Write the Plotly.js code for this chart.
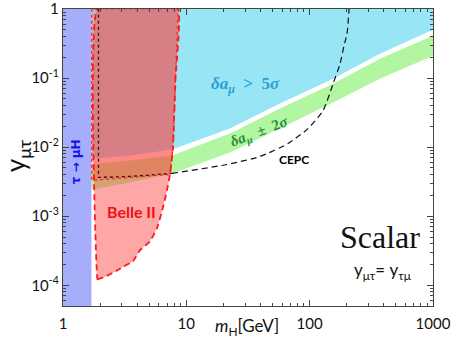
<!DOCTYPE html>
<html>
<head>
<meta charset="utf-8">
<script src="https://cdn.plot.ly/plotly-3.0.1.min.js"></script>
<style>
  html, body { margin: 0; padding: 0; background: #fff; }
  #plot { width: 452px; height: 348px; }
</style>
</head>
<body>
<div id="plot"></div>
<script>
// tau -> mu H excluded band
const tauX = [1, 1.7, 1.7, 1];
const tauY = [1.01, 1.01, 5e-5, 5e-5];

// g-2 bands, sampled along m_H
const massX = [1.7, 1.89, 3.49, 7.65, 22.6, 57.5, 155, 372, 1000];
const cyanLow = [0.00664, 0.00687, 0.0076, 0.00927, 0.0186, 0.0429, 0.0984, 0.226, 0.502];
const greenHigh = [0.00562, 0.00581, 0.00643, 0.0076, 0.0158, 0.0362, 0.0833, 0.191, 0.411];
const greenLow = [0.00245, 0.00253, 0.00309, 0.00417, 0.00838, 0.0186, 0.0443, 0.0984, 0.211];

// dotted red region
const dotX = [1.71, 1.71, 7.38, 7.8, 8.17, 8.57, 1.71];
const dotY = [1.01, 0.0033, 0.00403, 0.01, 0.1, 1.01, 1.01];

// Belle II reach
const belleX = [1.9, 1.9, 1.92, 2.15, 2.69, 3.07, 3.7, 4.21, 5.08, 5.78, 6.47, 6.97, 7.38, 7.8, 8.17, 8.57, 1.9];
const belleY = [1.01, 1.23e-4, 1.23e-4, 1.31e-4, 1.6e-4, 1.85e-4, 2.23e-4, 3.23e-4, 4.34e-4, 6.68e-4,
                1.34e-3, 2.37e-3, 4.03e-3, 0.01, 0.1, 1.01, 1.01];

// CEPC contour
const cepcX = [1.94, 1.94, 3.49, 7.65, 21.4, 39.6, 66.8, 97, 128.5, 155, 176.6, 190, 201, 209];
const cepcY = [1.01, 0.00365, 0.00377, 0.00417, 0.00562, 0.00734, 0.0113, 0.0186, 0.0339, 0.083, 0.162, 0.295, 0.44, 1.01];

const xTicks = [1, 10, 100, 1000];
const xLabels = ["1", "10", "100", "1000"];
const yTicks = [1, 0.1, 0.01, 0.001, 0.0001];
const yLabels = ["1", "10<sup>-1</sup>", "10<sup>-2</sup>", "10<sup>-3</sup>", "10<sup>-4</sup>"];

const poly = (x, y, fill, line) => ({
    x: x, y: y, type: "scatter", mode: line ? "lines" : "none",
    fill: "toself", fillcolor: fill, line: line || { width: 0 },
    hoverinfo: "skip", showlegend: false,
});

const traces = [
    poly(massX.concat([1000, 1.7]), cyanLow.concat([1.01, 1.01]), "rgb(152,230,245)"),
    poly(massX.concat(massX.slice().reverse()), greenLow.concat(greenHigh.slice().reverse()), "rgb(178,246,162)"),
    poly(tauX, tauY, "rgb(166,173,250)"),
    poly(dotX, dotY, "rgba(255,60,60,0.28)", { color: "#ff2020", width: 1.3, dash: "dot" }),
    poly(belleX, belleY, "rgba(255,60,60,0.45)", { color: "#ff1a1a", width: 1.8, dash: "6px,4px", shape: "spline", smoothing: 0.3 }),
    {
        x: cepcX.slice(0, 4), y: cepcY.slice(0, 4), type: "scatter", mode: "lines",
        line: { color: "#3a1010", width: 1.3, dash: "dot" }, showlegend: false, hoverinfo: "skip",
    },
    {
        x: cepcX.slice(3), y: cepcY.slice(3), type: "scatter", mode: "lines",
        line: { color: "#111", width: 1.2, dash: "6px,4px", shape: "spline", smoothing: 0.6 },
        showlegend: false, hoverinfo: "skip",
    },
];

const axisCommon = {
    type: "log", showgrid: false, zeroline: false,
    showline: true, linecolor: "#444", linewidth: 1.2, mirror: "ticks",
    ticks: "inside", ticklen: 6, tickcolor: "#444", tickmode: "array",
    ticklabeloverflow: "allow",
    tickfont: { family: "Lato, sans-serif", size: 15, color: "#111" },
    minor: { ticks: "inside", ticklen: 3, tickcolor: "#444", dtick: "D1", showgrid: false },
};

const note = (text, x, y, font, extra) => Object.assign({
    text: text, x: x, y: y, xref: "paper", yref: "paper", showarrow: false,
    xanchor: "center", yanchor: "middle", font: font,
}, extra || {});

const layout = {
    width: 452, height: 348,
    margin: { l: 63, r: 19, t: 9, b: 42 },
    paper_bgcolor: "#fff", plot_bgcolor: "#fff",
    showlegend: false,
    xaxis: Object.assign({}, axisCommon, {
        range: [0, 3.0005], tickvals: xTicks, ticktext: xLabels, ticklabelstandoff: 4,
    }),
    yaxis: Object.assign({}, axisCommon, {
        range: [-4.3, 0.0015], tickvals: yTicks, ticktext: yLabels,
    }),
    annotations: [
        note("<b><i>δa<sub>μ</sub></i>  >  5<i>σ</i></b>", 0.493, 0.745,
            { family: "Liberation Serif, serif", size: 17, color: "rgb(40,160,212)" }),
        note("<b><i>δa<sub>μ</sub></i>  ±  2<i>σ</i></b>", 0.532, 0.587,
            { family: "Liberation Serif, serif", size: 15, color: "rgb(40,140,60)" }, { textangle: -21 }),
        note("<b>CEPC</b>", 0.624, 0.493, { family: "Lato, sans-serif", size: 12, color: "#000" }),
        note("<b>Belle II</b>", 0.184, 0.319, { family: "Lato, sans-serif", size: 16, color: "#ee1111" }),
        note("<b>τ → μH</b>", 0.035, 0.487, { family: "DejaVu Sans, sans-serif", size: 12, color: "#1414ee" },
            { textangle: -90 }),
        note("Scalar", 0.857, 0.231, { family: "Liberation Serif, serif", size: 32, color: "#111" }),
        note("y<sub>μτ</sub>= y<sub>τμ</sub>", 0.865, 0.117, { family: "Lato, sans-serif", size: 17, color: "#111" }),
        note("y<sub>μτ</sub>", -0.125, 0.507, { family: "Lato, sans-serif", size: 26, color: "#111" },
            { textangle: -90 }),
        note("<i>m</i><sub>H</sub>[GeV]", 0.497, -0.07, { family: "Lato, sans-serif", size: 17, color: "#111" }),
    ],
};

Plotly.newPlot("plot", traces, layout, { displayModeBar: false, staticPlot: true });
</script>
</body>
</html>
